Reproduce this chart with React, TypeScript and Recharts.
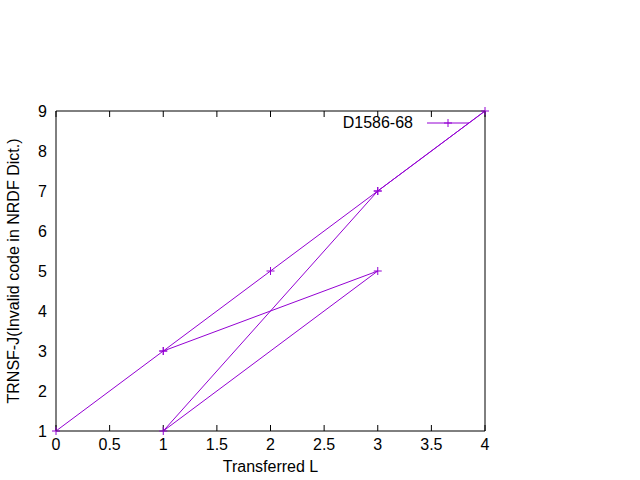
import { LineChart, Line, XAxis, YAxis } from 'recharts';

// points in the order they were plotted
const xValues = [0, 1, 2, 3, 4, 3, 1, 3, 1];
const yValues = [1, 3, 5, 7, 9, 7, 1, 5, 3];
const xTicks = [0, 0.5, 1, 1.5, 2, 2.5, 3, 3.5, 4];
const yTicks = [1, 2, 3, 4, 5, 6, 7, 8, 9];
const seriesName = 'D1586-68';
const xTitle = 'Transferred L';
const yTitle = 'TRNSF-J(Invalid code in NRDF Dict.)';

const data = xValues.map((x, i) => ({ x, y: yValues[i] }));

const PURPLE = '#9400d3';
const FONT = '"Liberation Sans", Arial, sans-serif';
const FS = 16;

function Plus(props: any) {
  const { cx, cy, index } = props;
  if (cx == null || cy == null) return null;
  return (
    <path
      key={index}
      d={`M${cx - 4},${cy}H${cx + 4}M${cx},${cy - 4}V${cy + 4}`}
      stroke={PURPLE}
      strokeWidth={1}
      fill="none"
    />
  );
}

const noLabel = () => <g />;

export default function App() {
  const tickStyle = { fill: '#000', fontSize: FS, fontFamily: FONT };
  const line = { stroke: '#000', strokeWidth: 1 };
  return (
    <div style={{ position: 'absolute', left: 0, top: 0, width: 640, height: 480, background: '#fff' }}>
      <LineChart width={640} height={480} data={data} margin={{ top: 111, right: 155, bottom: 4, left: 0 }}>
        <XAxis
          xAxisId="b"
          dataKey="x"
          type="number"
          domain={[0, 4]}
          ticks={xTicks}
          height={45}
          tick={tickStyle}
          tickLine={false}
          tickSize={0}
          tickMargin={8}
          axisLine={line}
          label={{
            content: (p: any) => {
              const vb = p.viewBox;
              return (
                <text x={vb.x + vb.width / 2} y={vb.y + 41} textAnchor="middle" fontSize={FS} fontFamily={FONT} fill="#000">
                  {xTitle}
                </text>
              );
            },
          }}
        />
        <XAxis xAxisId="bm" dataKey="x" type="number" domain={[0, 4]} ticks={xTicks} mirror tick={noLabel} tickSize={6} tickLine={line} axisLine={false} />
        <XAxis xAxisId="tm" orientation="top" dataKey="x" type="number" domain={[0, 4]} ticks={xTicks} mirror tick={noLabel} tickSize={6} tickLine={line} axisLine={line} />
        <YAxis
          yAxisId="l"
          type="number"
          domain={[1, 9]}
          ticks={yTicks}
          width={56}
          tick={tickStyle}
          tickLine={false}
          tickSize={0}
          tickMargin={9}
          axisLine={line}
          label={{
            content: (p: any) => {
              const vb = p.viewBox;
              const cx = vb.x + 19;
              const cy = vb.y + vb.height / 2;
              return (
                <text x={cx} y={cy} transform={`rotate(-90 ${cx} ${cy})`} textAnchor="middle" fontSize={FS} fontFamily={FONT} fill="#000">
                  {yTitle}
                </text>
              );
            },
          }}
        />
        <YAxis yAxisId="lm" type="number" domain={[1, 9]} ticks={yTicks} mirror tick={noLabel} tickSize={6} tickLine={line} axisLine={false} />
        <YAxis yAxisId="rm" orientation="right" type="number" domain={[1, 9]} ticks={yTicks} mirror tick={noLabel} tickSize={6} tickLine={line} axisLine={line} />
        <Line
          xAxisId="b"
          yAxisId="l"
          dataKey="y"
          name={seriesName}
          stroke={PURPLE}
          strokeWidth={1}
          dot={(p: any) => <Plus {...p} key={p.index} />}
          activeDot={false}
          isAnimationActive={false}
        />
      </LineChart>
      <svg width={640} height={480} style={{ position: 'absolute', left: 0, top: 0, pointerEvents: 'none' }}>
        <text x={413} y={128} textAnchor="end" fontSize={FS} fontFamily={FONT} fill="#000">
          {seriesName}
        </text>
        <line x1={427} y1={123} x2={469} y2={123} stroke={PURPLE} strokeWidth={1} />
        <Plus cx={448} cy={123} index={0} />
      </svg>
    </div>
  );
}
